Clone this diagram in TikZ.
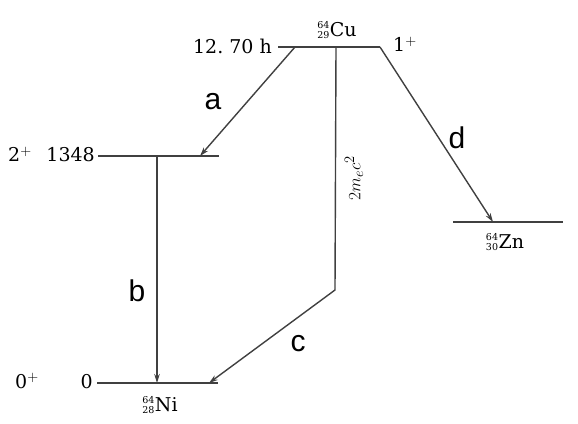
\documentclass[tikz,border=0pt]{standalone}
\usepackage{fontspec}
\setmainfont{DejaVu Serif}
\newfontfamily\letterfont{Liberation Sans}
\usetikzlibrary{arrows.meta}

\newcommand{\nuclide}[3]{\raisebox{-2.5pt}{\fontsize{9.5}{10.5}\selectfont\shortstack[r]{#1\\#2}}\kern0.5pt#3}

\tikzset{
  level/.style={draw=black!75, line width=1.6pt},
  decay/.style={draw=black!75, line width=1.4pt, -{Stealth[length=9pt,width=5.5pt]}},
  lbl/.style={font=\fontsize{19}{21}\selectfont, inner sep=0pt},
  letter/.style={font=\letterfont\fontsize{30}{32}\selectfont, inner sep=0pt}
}

\begin{document}
\begin{tikzpicture}[x=1pt, y=-1pt]
    \useasboundingbox (0,0) rectangle (578,423);

    % levels
    \coordinate (cuL) at (278,47);
    \coordinate (cuR) at (380,47);
    \draw[level] (cuL) -- (cuR);
    \node[lbl, anchor=east] (cuhalf) at (272,46) {12.\ 70 h};
    \node[lbl] (cuname) at (337,30) {\nuclide{64}{29}{Cu}};
    \node[lbl] (cuspin) at (405,44) {1$^{\scriptstyle +}$};

    \coordinate (exL) at (98,156);
    \coordinate (exR) at (219,156);
    \draw[level] (exL) -- (exR);
    \node[lbl, anchor=east] (exenergy) at (95,155) {1348};
    \node[lbl] (exspin) at (20,154) {2$^{\scriptstyle +}$};

    \coordinate (niL) at (97,383);
    \coordinate (niR) at (218,383);
    \draw[level] (niL) -- (niR);
    \node[lbl, anchor=east] (nienergy) at (93,382) {0};
    \node[lbl] (nispin) at (27,381) {0$^{\scriptstyle +}$};
    \node[lbl] (niname) at (160,405) {\nuclide{64}{28}{Ni}};

    \coordinate (znL) at (453,222);
    \coordinate (znR) at (563,222);
    \draw[level] (znL) -- (znR);
    \node[lbl] (znname) at (505,242) {\nuclide{64}{30}{Zn}};

    % transitions
    \coordinate (aS) at (295,47);
    \coordinate (aE) at (200,156);
    \draw[decay] (aS) -- (aE);
    \node[letter] (alab) at (213,102) {a};

    \coordinate (bS) at (157,156);
    \coordinate (bE) at (157,383);
    \draw[decay] (bS) -- (bE);
    \node[letter] (blab) at (137,291) {b};

    \coordinate (cS) at (336,47);
    \coordinate (cK) at (335,290);
    \coordinate (cE) at (209,383);
    \draw[decay] (cS) -- (cK) -- (cE);
    \node[letter] (clab) at (298,344) {c};
    \node[lbl, rotate=90] (cenergy) at (354,178) {$2m_e c^2$};

    \coordinate (dS) at (380,47);
    \coordinate (dE) at (493,222);
    \draw[decay] (dS) -- (dE);
    \node[letter] (dlab) at (457,138) {d};
\end{tikzpicture}
\end{document}
